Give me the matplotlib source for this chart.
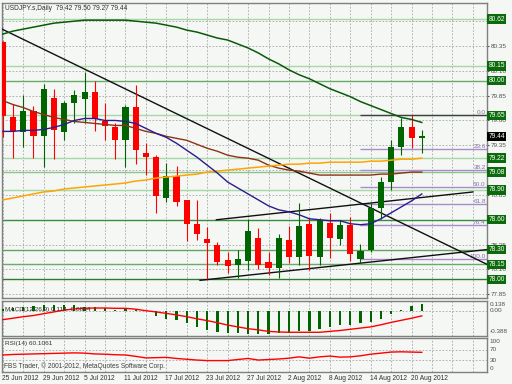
import numpy as np
import matplotlib
matplotlib.use('Agg')
import matplotlib.pyplot as plt

plt.rcParams['font.family'] = ['Liberation Sans', 'DejaVu Sans']

# ---- data (daily bars, 25 Jun .. 21 Aug 2012) ----
date_bars = [0, 4, 8, 12, 16, 20, 24, 28, 32, 36, 40]
date_labels = ['25 Jun 2012', '29 Jun 2012', '5 Jul 2012', '11 Jul 2012', '17 Jul 2012',
               '23 Jul 2012', '27 Jul 2012', '2 Aug 2012', '8 Aug 2012', '14 Aug 2012',
               '20 Aug 2012']

opens = [80.39, 79.63, 79.48, 79.70, 79.44, 79.83, 79.48, 79.78, 79.82, 79.89,
         79.59, 79.53, 79.40, 79.74, 79.27, 79.23, 78.82, 79.04, 78.80, 78.56,
         78.41, 78.35, 78.19, 78.14, 78.18, 78.42, 78.17, 78.11, 78.40, 78.22,
         78.56, 78.22, 78.57, 78.41, 78.55, 78.20, 78.30, 78.72, 78.98, 79.33,
         79.53, 79.42]
highs = [80.40, 79.77, 79.86, 79.75, 79.97, 79.92, 79.80, 79.91, 80.09, 80.00,
         79.78, 79.57, 79.76, 79.96, 79.37, 79.25, 79.17, 79.14, 78.80, 78.80,
         78.53, 78.38, 78.28, 78.30, 78.61, 78.52, 78.28, 78.46, 78.54, 78.77,
         78.62, 78.62, 78.67, 78.60, 78.63, 78.36, 78.77, 79.03, 79.40, 79.62,
         79.65, 79.50]
lows = [79.43, 79.22, 79.33, 79.22, 79.13, 79.21, 79.40, 79.57, 79.57, 79.49,
        79.40, 79.21, 79.13, 79.16, 79.05, 78.67, 78.78, 78.74, 78.39, 78.40,
        78.00, 78.14, 78.06, 78.01, 78.09, 78.10, 78.04, 78.01, 78.16, 78.14,
        78.09, 78.14, 78.21, 78.35, 78.18, 78.16, 78.28, 78.61, 78.90, 79.25,
        79.32, 79.27]
closes = [79.64, 79.49, 79.70, 79.44, 79.92, 79.50, 79.78, 79.86, 79.89, 79.61,
          79.54, 79.40, 79.74, 79.30, 79.23, 78.84, 79.04, 78.78, 78.56, 78.46,
          78.37, 78.17, 78.13, 78.20, 78.49, 78.14, 78.11, 78.42, 78.22, 78.54,
          78.23, 78.60, 78.42, 78.55, 78.26, 78.29, 78.72, 78.98, 79.33, 79.53,
          79.42, 79.44]

# moving averages
ma_green = [80.47, 80.50, 80.52, 80.54, 80.56, 80.58, 80.59, 80.60, 80.61, 80.61,
            80.61, 80.61, 80.61, 80.60, 80.59, 80.58, 80.56, 80.54, 80.51, 80.49,
            80.46, 80.43, 80.41, 80.37, 80.33, 80.28, 80.22, 80.17, 80.11, 80.06,
            80.02, 79.97, 79.92, 79.88, 79.84, 79.79, 79.75, 79.71, 79.67, 79.63,
            79.61, 79.58]
ma_brown = [79.80, 79.76, 79.73, 79.69, 79.66, 79.63, 79.61, 79.59, 79.58, 79.57,
            79.56, 79.55, 79.55, 79.52, 79.49, 79.47, 79.44, 79.42, 79.40, 79.36,
            79.32, 79.29, 79.25, 79.23, 79.22, 79.20, 79.15, 79.12, 79.10, 79.09,
            79.07, 79.05, 79.05, 79.05, 79.05, 79.05, 79.05, 79.06, 79.06, 79.07,
            79.08, 79.08]
ma_orange = [78.80, 78.82, 78.84, 78.86, 78.88, 78.89, 78.91, 78.92, 78.93, 78.94,
             78.95, 78.96, 78.97, 78.99, 79.00, 79.02, 79.03, 79.04, 79.05, 79.06,
             79.08, 79.09, 79.10, 79.11, 79.12, 79.13, 79.14, 79.15, 79.16, 79.16,
             79.17, 79.17, 79.18, 79.18, 79.18, 79.18, 79.19, 79.19, 79.20, 79.21,
             79.21, 79.22]
ma_navy = [79.49, 79.49, 79.50, 79.50, 79.51, 79.53, 79.56, 79.60, 79.62, 79.62,
           79.60, 79.60, 79.59, 79.57, 79.52, 79.47, 79.43, 79.37, 79.30, 79.23,
           79.15, 79.07, 78.98, 78.92, 78.86, 78.80, 78.74, 78.70, 78.68, 78.65,
           78.61, 78.60, 78.59, 78.59, 78.56, 78.55, 78.56, 78.61, 78.67, 78.73,
           78.79, 78.86]

# drawn objects: (bar, price) end points
trend_down = [(-0.27, 80.53), (47.4, 78.15)]
channel_low = [(19.3, 77.99), (47.4, 78.30)]
channel_high = [(20.9, 78.60), (46.0, 78.88)]

levels = [80.62, 80.15, 80.00, 79.65, 79.22, 79.08, 78.90, 78.60, 78.30, 78.15, 78.00]
level_colors = ['#a8d8a8', '#a8d8a8', '#6aaa6a', '#a8d8a8', '#a8d8a8', '#8cc48c',
                '#a8d8a8', '#3c8c3c', '#62a462', '#6aaa6a', '#2e7a2e']
last_price = 79.44

fib_top, fib_bottom = 79.65, 78.20
fib_levels = [0.0, 23.6, 38.2, 50.0, 61.8, 76.4, 100.0]
fib_start = 35

price_ticks = [77.85, 78.10, 78.35, 78.60, 78.85, 79.10, 79.35, 79.60, 79.85, 80.10, 80.35, 80.60]

macd = [0.03, 0.05, 0.07, 0.08, 0.10, 0.10, 0.10, 0.09, 0.07, 0.06,
        0.04, 0.02, 0.04, 0.01, -0.005, -0.09, -0.13, -0.16, -0.21, -0.27,
        -0.33, -0.36, -0.37, -0.38, -0.385, -0.385, -0.388, -0.38, -0.37, -0.34,
        -0.34, -0.30, -0.27, -0.24, -0.24, -0.21, -0.19, -0.13, -0.06, 0.02,
        0.08, 0.114]
macd_signal = [-0.15, -0.125, -0.10, -0.08, -0.05, -0.02, 0.01, 0.03, 0.04, 0.045,
               0.045, 0.04, 0.04, 0.025, 0.0, -0.02, -0.045, -0.07, -0.10, -0.135,
               -0.165, -0.20, -0.24, -0.27, -0.30, -0.32, -0.345, -0.355, -0.36, -0.36,
               -0.36, -0.36, -0.345, -0.33, -0.31, -0.29, -0.27, -0.235, -0.195, -0.16,
               -0.125, -0.086]
rsi = [50, 52, 53, 54, 55, 56, 57, 58, 57, 54,
       53, 51, 50, 45, 39, 40, 41, 37, 34, 31,
       29, 29, 29, 33, 37, 31, 33, 35, 38, 43,
       38, 43, 46, 42, 43, 47, 53, 57, 61, 62,
       61, 60.1]

# ---- figure ----
BG = '#f4f7f4'
GRID = '#a4a8a4'
W, H = 512, 384

def rect(x0, y0, x1, y1):
    return [x0 / W, 1 - y1 / H, (x1 - x0) / W, (y1 - y0) / H]

fig = plt.figure(figsize=(5.12, 3.84), dpi=100, facecolor=BG)
ax = fig.add_axes(rect(2, 3, 487, 298))
axm = fig.add_axes(rect(2, 301, 487, 336))
axr = fig.add_axes(rect(2, 338, 487, 372))

xmin, xmax = -0.08, 47.38
idx = np.arange(len(opens))
o, h, l, c = map(np.array, (opens, highs, lows, closes))

for a in (ax, axm, axr):
    a.set_facecolor(BG)
    a.set_xlim(xmin, xmax)
    for s in a.spines.values():
        s.set_color('#808080')
        s.set_linewidth(1.0)
    a.set_xticks([])
    for k in range(0, 48, 2):
        a.axvline(k, color=GRID, lw=0.6, ls=(0, (2, 2)), zorder=0)
    a.yaxis.tick_right()
    a.tick_params(axis='y', length=1.5, pad=1, labelsize=4.6, colors='#505050')

# main panel
ax.set_ylim(77.812, 80.783)
ax.set_yticks(price_ticks)
# labels hidden under a level box are left blank
ax.set_yticklabels(['' if min(abs(t - p) for p in levels) < 0.03 else '%.2f' % t
                    for t in price_ticks])
for t in price_ticks:
    ax.axhline(t, color=GRID, lw=0.6, ls=(0, (2, 2)), zorder=0)

for p, col in zip(levels, level_colors):
    ax.axhline(p, color=col, lw=1.0, zorder=1)
    ax.text(1.003, p, '%.2f' % p, transform=ax.get_yaxis_transform(), ha='left', va='center',
            fontsize=4.8, color='white', zorder=8, clip_on=False,
            bbox=dict(boxstyle='square,pad=0.18', fc='#0b6b0b', ec='none'))
ax.text(1.003, last_price, '%.2f' % last_price, transform=ax.get_yaxis_transform(), ha='left',
        va='center', fontsize=4.8, color='white', zorder=8, clip_on=False,
        bbox=dict(boxstyle='square,pad=0.18', fc='#000000', ec='none'))

# fibonacci retracement
for lv in fib_levels:
    fp = fib_top - lv / 100.0 * (fib_top - fib_bottom)
    ax.hlines(fp, fib_start, xmax, color='#404040' if lv == 0 else '#a98ccc', lw=1.0, zorder=2)
    ax.text(47.25, fp + 0.005, '%.1f' % lv, ha='right', va='bottom', fontsize=4.6,
            color='#8c6cae', zorder=2)

# trend lines
for line in (trend_down, channel_low, channel_high):
    xs, ys = zip(*line)
    ax.plot(xs, ys, color='#101010', lw=1.0, zorder=3)

# candles
up = c >= o
ccol = np.where(up, '#006400', '#ff0000')
body_lo = np.minimum(o, c)
body_h = np.maximum(np.abs(c - o), 0.012)
ax.vlines(idx, l, h, colors=ccol, lw=0.8, zorder=4)
ax.bar(idx, body_h, bottom=body_lo, width=0.6, color=ccol, linewidth=0, zorder=4.1)

# moving averages
ax.plot(idx, ma_green, color='#0a5a0a', lw=1.1, zorder=5)
ax.plot(idx, ma_brown, color='#8b3316', lw=1.0, zorder=5)
ax.plot(idx, ma_orange, color='#ffa500', lw=1.1, zorder=5)
ax.plot(idx, ma_navy, color='#2a1c8c', lw=1.0, zorder=5)

ax.text(0.006, 0.992, 'USDJPY.s,Daily  79.42 79.50 79.27 79.44', transform=ax.transAxes,
        ha='left', va='top', fontsize=4.8, color='#303030', zorder=9)

# MACD panel
axm.set_ylim(-0.422, 0.162)
axm.set_yticks([])
axm.axhline(0, color=GRID, lw=0.6, ls=(0, (2, 2)), zorder=0)
axm.bar(idx, macd, width=0.22, color='#006400', zorder=3)
axm.plot(idx, macd_signal, color='#ff0000', lw=1.0, zorder=4)
axm.text(0.006, 0.77, 'MACD(12,26,9) 0.114 -0.0864', transform=axm.transAxes, ha='left',
         va='center', fontsize=4.6, color='#303030', zorder=9)
for v, txt, va in ((0.138, '0.138', 'top'), (0.0, '0.00', 'center'), (-0.388, '-0.388', 'bottom')):
    axm.text(1.006, v, txt, transform=axm.get_yaxis_transform(), ha='left', va=va,
             fontsize=4.6, color='#505050', clip_on=False)

# RSI panel
axr.set_ylim(-13.9, 113.9)
axr.set_yticks([])
for v in (70, 30):
    axr.axhline(v, color=GRID, lw=0.6, ls=(0, (2, 2)), zorder=0)
axr.plot(idx, rsi, color='#ff0000', lw=1.0, zorder=4)
axr.text(0.006, 0.85, 'RSI(14) 60.1061', transform=axr.transAxes, ha='left', va='center',
         fontsize=4.6, color='#303030')
axr.text(0.004, 0.06, 'FBS Trader, \u00a9 2001-2012, MetaQuotes Software Corp.',
         transform=axr.transAxes, ha='left', va='bottom', fontsize=4.8, color='#404040')
for v in (100, 70, 30, 0):
    axr.text(1.006, v, str(v), transform=axr.get_yaxis_transform(), ha='left', va='center',
             fontsize=4.6, color='#505050', clip_on=False)

# time axis labels
for b, lab in zip(date_bars, date_labels):
    axr.text(b - 0.1, -0.09, lab, transform=axr.get_xaxis_transform(), ha='left', va='top',
             fontsize=4.8, color='#303030', clip_on=False)

fig.savefig('out.png', dpi=100, facecolor=BG)
